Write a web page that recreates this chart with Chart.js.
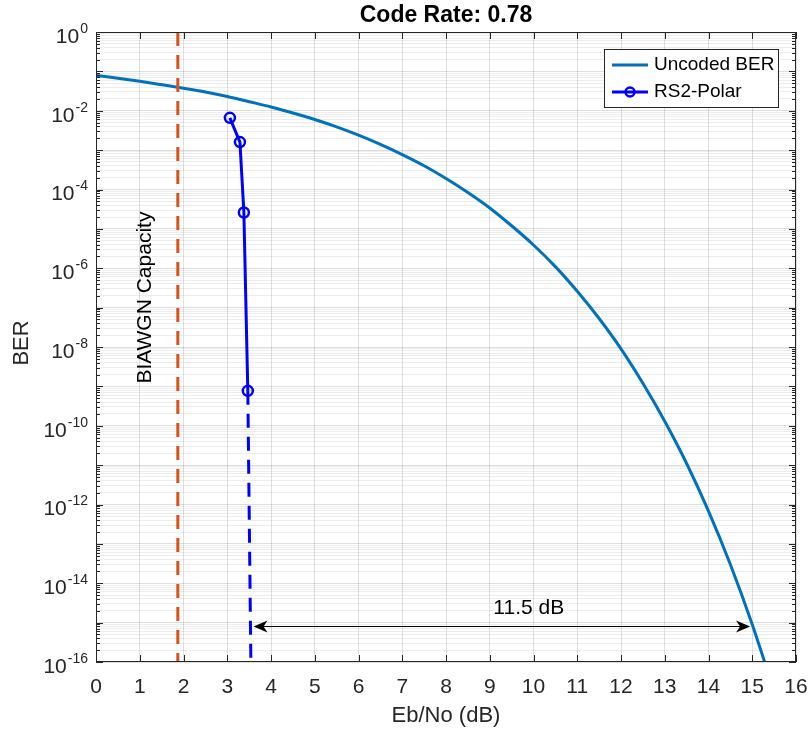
<!DOCTYPE html>
<html lang="en">
<head>
    <meta charset="UTF-8">
    <title>Code Rate: 0.78</title>
    <script src="https://cdn.jsdelivr.net/npm/chart.js"></script>
    <style>
        body { margin: 0; background: #fff; }
        canvas { display: block; }
    </style>
</head>
<body>
    <canvas id="berChart" width="812" height="730"></canvas>
    <script>
        // values
        const ebNo = [0, 0.5, 1, 1.5, 2, 2.5, 3, 3.5, 4, 4.5, 5, 5.5, 6, 6.5, 7, 7.5,
                      8, 8.5, 9, 9.5, 10, 10.5, 11, 11.5, 12, 12.5, 13, 13.5, 14, 14.5, 15, 15.5];
        const uncodedBer = [7.9e-2, 6.7e-2, 5.6e-2, 4.6e-2, 3.75e-2, 3.0e-2, 2.3e-2, 1.7e-2,
                            1.25e-2, 8.8e-3, 6.0e-3, 3.9e-3, 2.4e-3, 1.4e-3, 7.7e-4, 4.0e-4,
                            1.9e-4, 8.4e-5, 3.4e-5, 1.2e-5, 3.9e-6, 1.1e-6, 2.6e-7, 5.3e-8,
                            9.0e-9, 1.2e-9, 1.3e-10, 1.1e-11, 6.8e-13, 3.0e-14, 9.0e-16, 1.8e-17];
        const polarEbNo = [3.06, 3.29, 3.38, 3.47];
        const polarBer = [6.6e-3, 1.6e-3, 2.6e-5, 7.7e-10];
        const polarTailEbNo = [3.47, 3.54];
        const polarTailBer = [7.7e-10, 1e-16];
        const capacityEbNo = [1.87, 1.87];
        const capacityBer = [1, 1e-16];
        const gapEbNo = [3.6, 14.95];
        const gapBer = 8e-16;
        const gapLabel = '11.5 dB';
        const xTicks = [0, 1, 2, 3, 4, 5, 6, 7, 8, 9, 10, 11, 12, 13, 14, 15, 16];
        const yLabelExps = [0, -2, -4, -6, -8, -10, -12, -14, -16];

        const toPts = (xs, ys) => xs.map((x, i) => ({ x, y: ys[i] }));

        // all 1..9 x 10^e positions for the log grid
        const yGridValues = [];
        for (let e = -16; e < 0; e++) {
            for (let k = 1; k <= 9; k++) yGridValues.push(Number(k + 'e' + e));
        }
        yGridValues.push(1);
        const isDecade = v => Math.abs(Math.log10(v) - Math.round(Math.log10(v))) < 1e-9;

        const FONT = '"Liberation Sans", Arial, sans-serif';
        const AXIS_COLOR = '#262626';

        // text, box, tick marks, legend and arrow, drawn like MATLAB
        const matlabDecor = {
            id: 'matlabDecor',
            afterDatasetsDraw(chart) {
                const { ctx, chartArea: a, scales: { x, y } } = chart;
                ctx.save();

                // box
                ctx.strokeStyle = AXIS_COLOR;
                ctx.lineWidth = 1;
                ctx.strokeRect(a.left + 0.5, a.top + 0.5, a.right - a.left - 1, a.bottom - a.top - 1);

                // inward ticks
                ctx.beginPath();
                xTicks.forEach(v => {
                    const px = Math.round(x.getPixelForValue(v)) + 0.5;
                    ctx.moveTo(px, a.bottom); ctx.lineTo(px, a.bottom - 7);
                    ctx.moveTo(px, a.top); ctx.lineTo(px, a.top + 7);
                });
                yGridValues.forEach(v => {
                    const py = Math.round(y.getPixelForValue(v)) + 0.5;
                    const len = isDecade(v) ? 7 : 4;
                    ctx.moveTo(a.left, py); ctx.lineTo(a.left + len, py);
                    ctx.moveTo(a.right, py); ctx.lineTo(a.right - len, py);
                });
                ctx.stroke();

                // x tick labels
                ctx.fillStyle = AXIS_COLOR;
                ctx.font = '21px ' + FONT;
                ctx.textAlign = 'center';
                ctx.textBaseline = 'middle';
                xTicks.forEach(v => ctx.fillText(String(v), x.getPixelForValue(v), a.bottom + 25));

                // y tick labels with superscript exponents
                yLabelExps.forEach(e => {
                    const py = y.getPixelForValue(Math.pow(10, e));
                    ctx.font = '14px ' + FONT;
                    ctx.textAlign = 'right';
                    const expStr = e === 0 ? '0' : '-' + Math.abs(e);
                    const expW = ctx.measureText(expStr).width;
                    ctx.fillText(expStr, a.left - 8, py - 3);
                    ctx.font = '21px ' + FONT;
                    ctx.fillText('10', a.left - 9 - expW, py + 5);
                });

                // axis titles and title
                ctx.textAlign = 'center';
                ctx.font = '22px ' + FONT;
                ctx.fillText('Eb/No (dB)', (a.left + a.right) / 2, a.bottom + 54);
                ctx.save();
                ctx.translate(22, (a.top + a.bottom) / 2 - 4);
                ctx.rotate(-Math.PI / 2);
                ctx.font = '22px ' + FONT;
                ctx.fillText('BER', 0, 0);
                ctx.restore();
                ctx.font = 'bold 23px ' + FONT;
                ctx.fillStyle = '#000';
                ctx.fillText('Code Rate: 0.78', (a.left + a.right) / 2, 16);

                // capacity label
                ctx.save();
                ctx.translate(x.getPixelForValue(capacityEbNo[0]) - 33, y.getPixelForValue(1.8e-7));
                ctx.rotate(-Math.PI / 2);
                ctx.font = '21px ' + FONT;
                ctx.fillStyle = '#000';
                ctx.fillText('BIAWGN Capacity', 0, 0);
                ctx.restore();

                // double arrow for the gap
                const ax0 = x.getPixelForValue(gapEbNo[0]);
                const ax1 = x.getPixelForValue(gapEbNo[1]);
                const ay = Math.round(y.getPixelForValue(gapBer)) + 0.5;
                ctx.strokeStyle = '#000';
                ctx.fillStyle = '#000';
                ctx.lineWidth = 1;
                ctx.beginPath();
                ctx.moveTo(ax0 + 4, ay); ctx.lineTo(ax1 - 4, ay);
                ctx.stroke();
                const head = (tipX, dir) => {
                    ctx.beginPath();
                    ctx.moveTo(tipX, ay);
                    ctx.lineTo(tipX + dir * 14, ay - 6);
                    ctx.lineTo(tipX + dir * 10, ay);
                    ctx.lineTo(tipX + dir * 14, ay + 6);
                    ctx.closePath();
                    ctx.fill();
                };
                head(ax0, 1);
                head(ax1, -1);
                ctx.font = '21px ' + FONT;
                ctx.fillText(gapLabel, (ax0 + ax1) / 2 + 27, ay - 18);

                // legend
                const lx = 604, ly = 49, lw = 174, lh = 58;
                ctx.fillStyle = '#fff';
                ctx.fillRect(lx, ly, lw, lh);
                ctx.strokeStyle = AXIS_COLOR;
                ctx.lineWidth = 1;
                ctx.strokeRect(lx + 0.5, ly + 0.5, lw, lh);
                ctx.lineWidth = 3;
                ctx.strokeStyle = '#0072BD';
                ctx.beginPath(); ctx.moveTo(lx + 8, ly + 16); ctx.lineTo(lx + 44, ly + 16); ctx.stroke();
                ctx.strokeStyle = '#0000FF';
                ctx.beginPath(); ctx.moveTo(lx + 8, ly + 43); ctx.lineTo(lx + 44, ly + 43); ctx.stroke();
                ctx.lineWidth = 2.5;
                ctx.beginPath(); ctx.arc(lx + 26, ly + 43, 4.5, 0, Math.PI * 2); ctx.stroke();
                ctx.fillStyle = '#000';
                ctx.textAlign = 'left';
                ctx.font = '19px ' + FONT;
                ctx.fillText('Uncoded BER', lx + 50, ly + 16);
                ctx.fillText('RS2-Polar', lx + 50, ly + 43);

                ctx.restore();
            }
        };

        new Chart(document.getElementById('berChart'), {
            type: 'line',
            data: {
                datasets: [
                    {
                        label: 'BIAWGN Capacity',
                        data: toPts(capacityEbNo, capacityBer),
                        borderColor: '#D95319',
                        borderWidth: 3,
                        borderDash: [14, 9],
                        pointRadius: 0
                    },
                    {
                        label: 'Uncoded BER',
                        data: toPts(ebNo, uncodedBer),
                        borderColor: '#0072BD',
                        borderWidth: 3,
                        cubicInterpolationMode: 'monotone',
                        pointRadius: 0
                    },
                    {
                        label: 'RS2-Polar tail',
                        data: toPts(polarTailEbNo, polarTailBer),
                        borderColor: '#0000FF',
                        borderWidth: 3,
                        borderDash: [14, 9],
                        pointRadius: 0
                    },
                    {
                        label: 'RS2-Polar',
                        data: toPts(polarEbNo, polarBer),
                        borderColor: '#0000FF',
                        borderWidth: 3,
                        pointRadius: 5,
                        pointBorderWidth: 2.5,
                        pointBackgroundColor: 'rgba(0,0,0,0)',
                        pointBorderColor: '#0000FF'
                    }
                ]
            },
            options: {
                responsive: false,
                animation: false,
                layout: { padding: { left: 0, right: 16, top: 32, bottom: 0 } },
                plugins: {
                    legend: { display: false },
                    title: { display: false },
                    tooltip: { enabled: false }
                },
                scales: {
                    x: {
                        type: 'linear',
                        min: 0,
                        max: 16,
                        ticks: { display: false, stepSize: 1 },
                        grid: { color: 'rgba(0,0,0,0.12)', drawTicks: false },
                        border: { display: false },
                        afterFit: s => { s.height = 68; }
                    },
                    y: {
                        type: 'logarithmic',
                        min: 1e-16,
                        max: 1,
                        afterBuildTicks: s => { s.ticks = yGridValues.map(v => ({ value: v })); },
                        ticks: { display: false, autoSkip: false },
                        grid: {
                            drawTicks: false,
                            color: c => (c.tick && isDecade(c.tick.value)) ? 'rgba(0,0,0,0.13)' : 'rgba(0,0,0,0.07)'
                        },
                        border: { display: false },
                        afterFit: s => { s.width = 96; }
                    }
                }
            },
            plugins: [matlabDecor]
        });
    </script>
</body>
</html>
